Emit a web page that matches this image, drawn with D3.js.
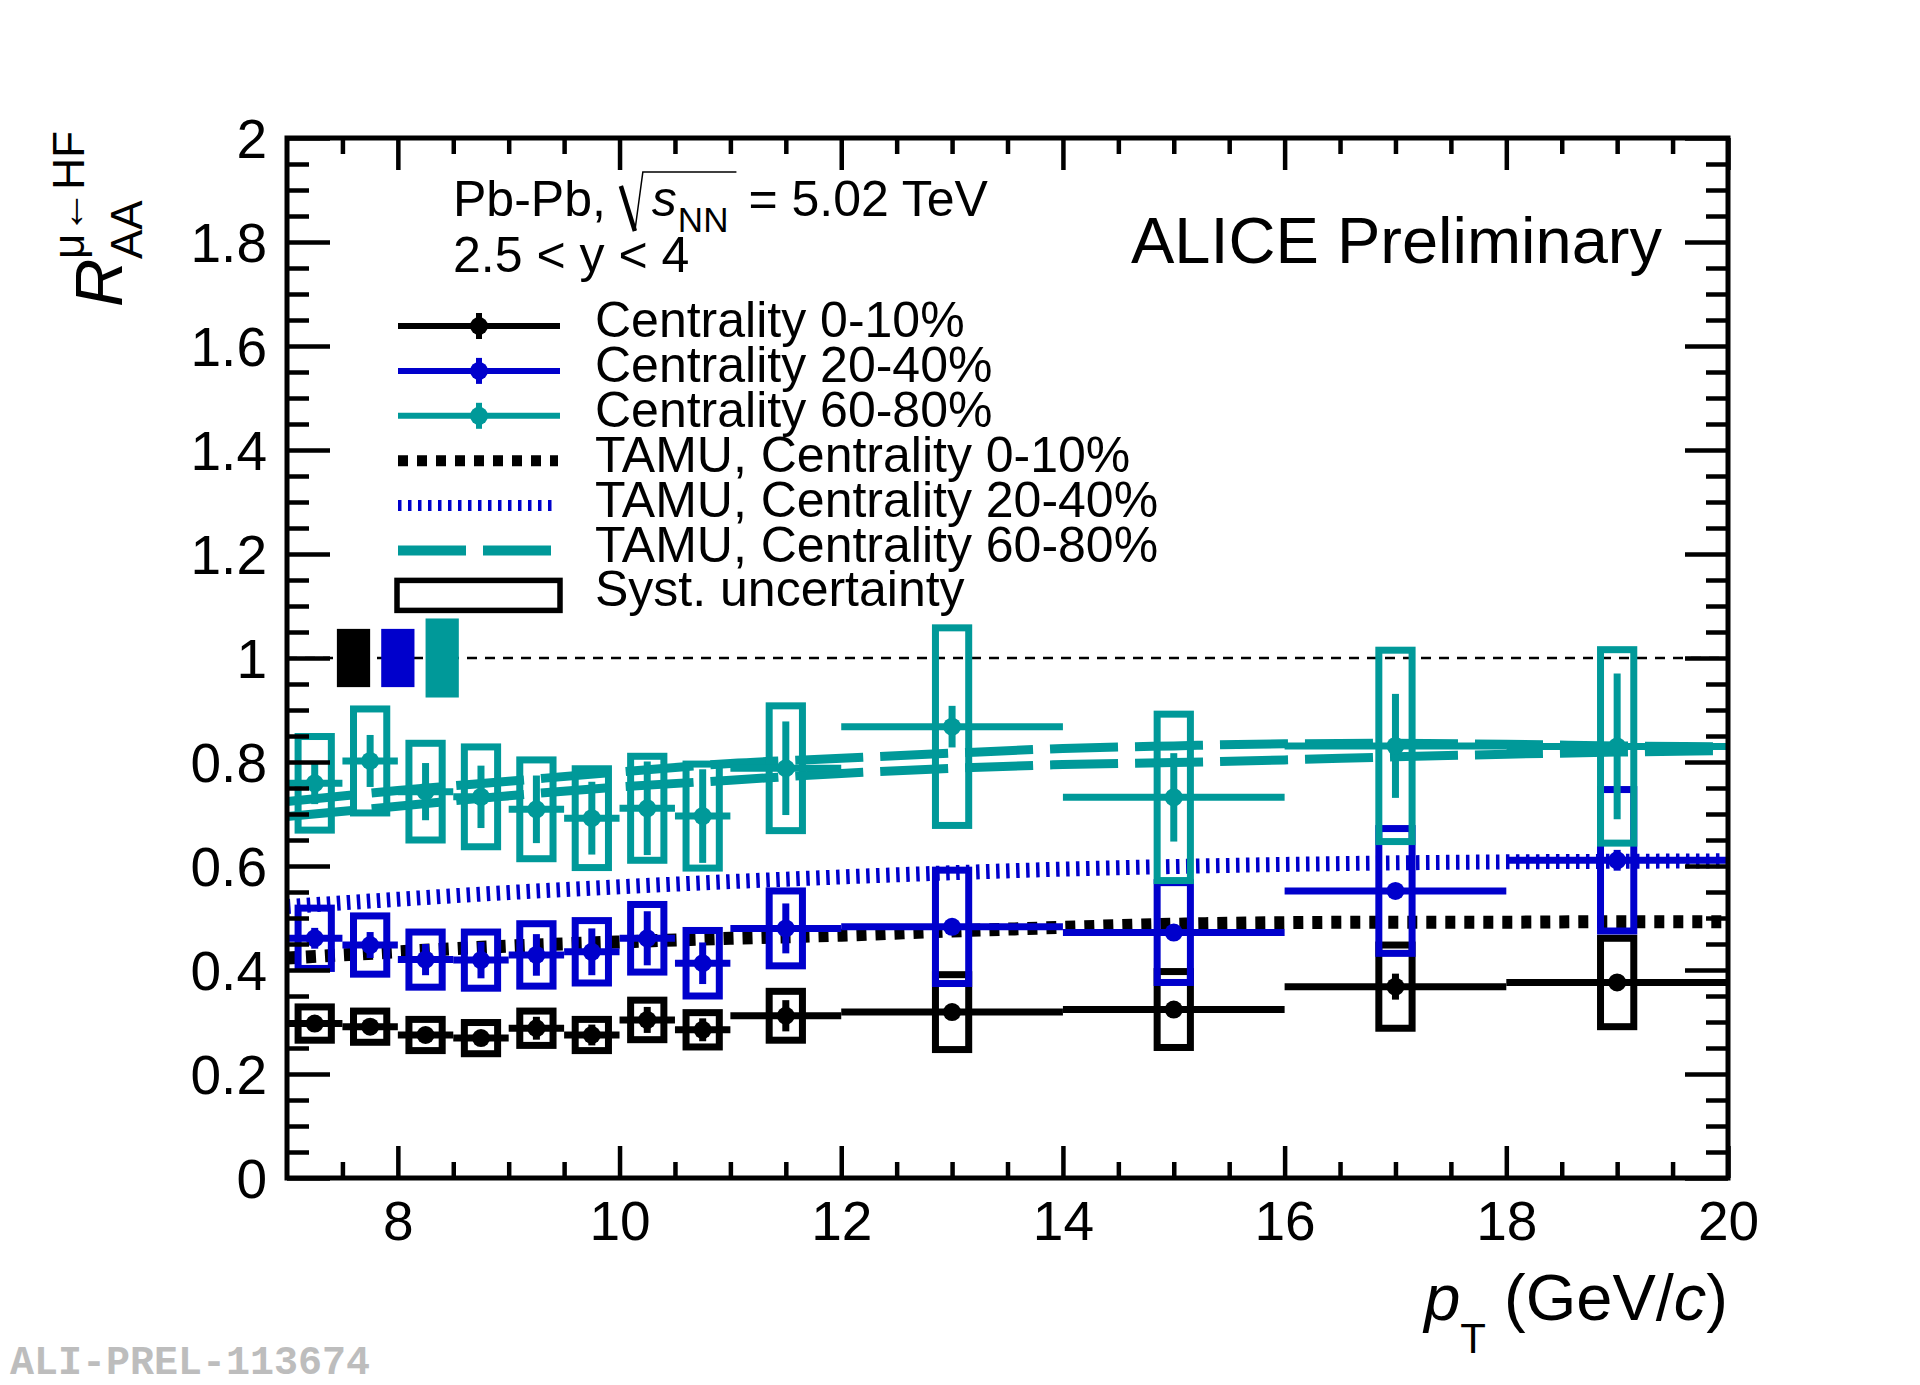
<!DOCTYPE html>
<html>
<head>
<meta charset="utf-8">
<script src="https://cdn.jsdelivr.net/npm/d3@7"></script>
<style>
  body { margin: 0; background: #fff; }
  svg { font-family: "Liberation Sans", Arial, Helvetica, sans-serif; }
</style>
</head>
<body>
<script>
// pT bins
var ptCenter = [7.25, 7.75, 8.25, 8.75, 9.25, 9.75, 10.25, 10.75, 11.5, 13, 15, 17, 19];
var ptLow    = [7.0, 7.5, 8.0, 8.5, 9.0, 9.5, 10.0, 10.5, 11, 12, 14, 16, 18];
var ptHigh   = [7.5, 8.0, 8.5, 9.0, 9.5, 10.0, 10.5, 11.0, 12, 14, 16, 18, 20];

// RAA values, stat and syst (half sizes)
var raa010  = [0.297, 0.291, 0.275, 0.269, 0.288, 0.275, 0.304, 0.285, 0.312, 0.319, 0.324, 0.368, 0.376];
var stat010 = [0.015, 0.015, 0.015, 0.015, 0.022, 0.020, 0.025, 0.022, 0.030, 0.012, 0.015, 0.025, 0.015];
var syst010 = [0.032, 0.030, 0.030, 0.030, 0.033, 0.030, 0.038, 0.033, 0.047, 0.072, 0.073, 0.080, 0.085];

var raa2040  = [0.461, 0.448, 0.420, 0.419, 0.429, 0.435, 0.461, 0.413, 0.480, 0.483, 0.472, 0.552, 0.611];
var stat2040 = [0.020, 0.025, 0.030, 0.035, 0.040, 0.045, 0.052, 0.040, 0.048, 0.015, 0.015, 0.015, 0.020];
var syst2040 = [0.058, 0.056, 0.053, 0.054, 0.060, 0.060, 0.065, 0.063, 0.072, 0.109, 0.096, 0.120, 0.136];

var raa6080  = [0.759, 0.802, 0.743, 0.733, 0.709, 0.692, 0.711, 0.696, 0.788, 0.868, 0.732, 0.831, 0.830];
var stat6080 = [0.040, 0.050, 0.055, 0.060, 0.065, 0.070, 0.090, 0.090, 0.090, 0.040, 0.085, 0.100, 0.140];
var syst6080 = [0.090, 0.100, 0.093, 0.096, 0.095, 0.095, 0.100, 0.100, 0.120, 0.190, 0.160, 0.184, 0.186];

// normalisation uncertainties drawn at RAA = 1
var normX    = [7.6, 8.0, 8.4];
var normHalf = [0.056, 0.056, 0.076];

// TAMU model curves
var tamuPt     = [7, 8, 9, 10, 11, 12, 13, 14, 15, 16, 17, 18, 19, 20];
var tamu010    = [0.423, 0.435, 0.446, 0.454, 0.461, 0.467, 0.475, 0.482, 0.488, 0.491, 0.492, 0.492, 0.493, 0.493];
var tamu2040   = [0.522, 0.536, 0.549, 0.560, 0.570, 0.579, 0.587, 0.594, 0.599, 0.603, 0.606, 0.608, 0.609, 0.610];
var tamu6080Up = [0.724, 0.745, 0.763, 0.781, 0.797, 0.807, 0.817, 0.826, 0.831, 0.835, 0.836, 0.834, 0.831, 0.829];
var tamu6080Lo = [0.695, 0.715, 0.735, 0.752, 0.765, 0.778, 0.788, 0.795, 0.799, 0.804, 0.810, 0.815, 0.819, 0.822];

// axis ticks
var xMajor = [8, 10, 12, 14, 16, 18, 20];
var yMajor = [0, 0.2, 0.4, 0.6, 0.8, 1, 1.2, 1.4, 1.6, 1.8, 2];

var black = "#000000", blue = "#0000cc", teal = "#009999";

var svg = d3.select("body").append("svg")
            .attr("width", 1920)
            .attr("height", 1385);

var x = d3.scaleLinear().domain([7, 20]).range([287, 1728]);
var y = d3.scaleLinear().domain([0, 2]).range([1178, 138]);

svg.append("defs").append("clipPath").attr("id", "frame")
   .append("rect")
   .attr("x", x(7)).attr("y", y(2))
   .attr("width", x(20) - x(7)).attr("height", y(0) - y(2));

var plot = svg.append("g").attr("clip-path", "url(#frame)");

// reference line at 1
plot.append("line")
    .attr("x1", x(7)).attr("x2", x(20))
    .attr("y1", y(1)).attr("y2", y(1))
    .attr("stroke", "#000")
    .attr("stroke-width", 2.5)
    .attr("stroke-dasharray", "10,8");

// model curves
var line = d3.line().curve(d3.curveMonotoneX);

function drawModel(vals, color, width, dash) {
  plot.append("path")
      .attr("d", line(tamuPt.map(function (p, i) { return [x(p), y(vals[i])]; })))
      .attr("fill", "none")
      .attr("stroke", color)
      .attr("stroke-width", width)
      .attr("stroke-dasharray", dash);
}

drawModel(tamu010, black, 13, "10,9");
drawModel(tamu2040, blue, 15, "3.5,6.5");
drawModel(tamu6080Up, teal, 9, "68,17");
drawModel(tamu6080Lo, teal, 9, "68,17");

// data series
var boxHalf = 0.15;

function drawSeries(vals, stat, syst, color) {
  var g = plot.append("g");

  g.selectAll(".syst").data(vals).enter().append("rect")
   .attr("x", function (d, i) { return x(ptCenter[i] - boxHalf); })
   .attr("y", function (d, i) { return y(d + syst[i]); })
   .attr("width", function (d, i) { return x(ptCenter[i] + boxHalf) - x(ptCenter[i] - boxHalf); })
   .attr("height", function (d, i) { return y(d - syst[i]) - y(d + syst[i]); })
   .attr("fill", "none")
   .attr("stroke", color)
   .attr("stroke-width", 7);

  g.selectAll(".xerr").data(vals).enter().append("line")
   .attr("x1", function (d, i) { return x(ptLow[i]); })
   .attr("x2", function (d, i) { return x(ptHigh[i]); })
   .attr("y1", function (d) { return y(d); })
   .attr("y2", function (d) { return y(d); })
   .attr("stroke", color)
   .attr("stroke-width", 7);

  g.selectAll(".yerr").data(vals).enter().append("line")
   .attr("x1", function (d, i) { return x(ptCenter[i]); })
   .attr("x2", function (d, i) { return x(ptCenter[i]); })
   .attr("y1", function (d, i) { return y(d + stat[i]); })
   .attr("y2", function (d, i) { return y(d - stat[i]); })
   .attr("stroke", color)
   .attr("stroke-width", 7);

  g.selectAll("circle").data(vals).enter().append("circle")
   .attr("cx", function (d, i) { return x(ptCenter[i]); })
   .attr("cy", function (d) { return y(d); })
   .attr("r", 9)
   .attr("fill", color);
}

drawSeries(raa010, stat010, syst010, black);
drawSeries(raa2040, stat2040, syst2040, blue);
drawSeries(raa6080, stat6080, syst6080, teal);

// normalisation boxes
var normColors = [black, blue, teal];
plot.selectAll(".norm").data(normX).enter().append("rect")
    .attr("x", function (d) { return x(d - boxHalf); })
    .attr("y", function (d, i) { return y(1 + normHalf[i]); })
    .attr("width", function (d) { return x(d + boxHalf) - x(d - boxHalf); })
    .attr("height", function (d, i) { return y(1 - normHalf[i]) - y(1 + normHalf[i]); })
    .attr("fill", function (d, i) { return normColors[i]; });

// axes
var xMinor = d3.range(7.5, 20, 0.5).filter(function (v) { return xMajor.indexOf(v) < 0; });
var yMinor = d3.range(0, 41).map(function (k) { return k * 0.05; })
               .filter(function (v) { return Math.abs(Math.round(v * 5) - v * 5) > 1e-6; });

function styleAxis(g) {
  g.select(".domain").remove();
  g.selectAll(".tick line").attr("stroke", "#000").attr("stroke-width", 4.5);
  g.selectAll("text")
   .attr("fill", "#000")
   .attr("font-family", "Liberation Sans, Arial, sans-serif")
   .attr("font-size", 55);
}

svg.append("g").attr("transform", "translate(0," + y(0) + ")")
   .call(d3.axisBottom(x).tickValues(xMajor).tickSize(-32).tickPadding(23).tickFormat(d3.format("d")))
   .call(styleAxis);
svg.append("g").attr("transform", "translate(0," + y(0) + ")")
   .call(d3.axisBottom(x).tickValues(xMinor).tickSize(-16).tickFormat(""))
   .call(styleAxis);
svg.append("g").attr("transform", "translate(0," + y(2) + ")")
   .call(d3.axisTop(x).tickValues(xMajor).tickSize(-32).tickFormat(""))
   .call(styleAxis);
svg.append("g").attr("transform", "translate(0," + y(2) + ")")
   .call(d3.axisTop(x).tickValues(xMinor).tickSize(-16).tickFormat(""))
   .call(styleAxis);

svg.append("g").attr("transform", "translate(" + x(7) + ",0)")
   .call(d3.axisLeft(y).tickValues(yMajor).tickSize(-43).tickPadding(20).tickFormat(d3.format("~g")))
   .call(styleAxis)
   .selectAll("text").attr("dy", "0.36em");
svg.append("g").attr("transform", "translate(" + x(7) + ",0)")
   .call(d3.axisLeft(y).tickValues(yMinor).tickSize(-22).tickFormat(""))
   .call(styleAxis);
svg.append("g").attr("transform", "translate(" + x(20) + ",0)")
   .call(d3.axisRight(y).tickValues(yMajor).tickSize(-43).tickFormat(""))
   .call(styleAxis);
svg.append("g").attr("transform", "translate(" + x(20) + ",0)")
   .call(d3.axisRight(y).tickValues(yMinor).tickSize(-22).tickFormat(""))
   .call(styleAxis);

svg.append("rect")
   .attr("x", x(7)).attr("y", y(2))
   .attr("width", x(20) - x(7)).attr("height", y(0) - y(2))
   .attr("fill", "none")
   .attr("stroke", "#000")
   .attr("stroke-width", 5);

// axis titles
var xt = svg.append("text")
            .attr("x", 1728).attr("y", 1320)
            .attr("text-anchor", "end")
            .attr("font-size", 65)
            .style("white-space", "pre");
xt.append("tspan").attr("font-style", "italic").text("p");
xt.append("tspan").attr("font-size", 42).attr("dy", 33).text("T");
xt.append("tspan").attr("dy", -33).text(" (GeV/");
xt.append("tspan").attr("font-style", "italic").text("c");
xt.append("tspan").text(")");

svg.append("text")
   .attr("transform", "translate(122,307) rotate(-90)")
   .attr("font-size", 67).attr("font-style", "italic")
   .text("R");
svg.append("text")
   .attr("transform", "translate(142,259) rotate(-90)")
   .attr("font-size", 44)
   .text("AA");
svg.append("text")
   .attr("transform", "translate(84,259) rotate(-90)")
   .attr("font-size", 44)
   .text("\u03bc\u2190HF");

// labels
svg.append("text")
   .attr("x", 1662).attr("y", 263)
   .attr("text-anchor", "end")
   .attr("font-size", 65)
   .text("ALICE Preliminary");

var pb = svg.append("text")
            .attr("x", 453).attr("y", 216)
            .attr("font-size", 50)
            .text("Pb-Pb,");
var sx = 453 + pb.node().getComputedTextLength() + 15;
var sText = svg.append("text")
               .attr("x", sx + 31).attr("y", 216)
               .attr("font-size", 50).attr("font-style", "italic")
               .text("s");
var nnX = sx + 31 + sText.node().getComputedTextLength() + 1;
var nn = svg.append("text")
            .attr("x", nnX).attr("y", 232)
            .attr("font-size", 35)
            .text("NN");
var eqX = nnX + nn.node().getComputedTextLength() + 20;
svg.append("text")
   .attr("x", eqX).attr("y", 216)
   .attr("font-size", 50)
   .text("= 5.02 TeV");
svg.append("path")
   .attr("d", "M" + sx + ",186 L" + (sx + 14) + ",231")
   .attr("stroke", "#000").attr("stroke-width", 4.5).attr("fill", "none");
svg.append("path")
   .attr("d", "M" + (sx + 14) + ",231 L" + (sx + 22) + ",172 L" + (eqX - 12) + ",172")
   .attr("stroke", "#000").attr("stroke-width", 1.5).attr("fill", "none");

svg.append("text")
   .attr("x", 453).attr("y", 272)
   .attr("font-size", 50)
   .text("2.5 < y < 4");

// legend
var legendLabels = ["Centrality 0-10%", "Centrality 20-40%", "Centrality 60-80%",
                    "TAMU, Centrality 0-10%", "TAMU, Centrality 20-40%", "TAMU, Centrality 60-80%",
                    "Syst. uncertainty"];
var legendColors = [black, blue, teal, black, blue, teal, black];
var legendDash   = [null, null, null, "10,9", "3.5,6.5", "68,17", null];
var legendWidth  = [6, 6, 6, 11, 11, 10, 5];
var rowY = function (i) { return 326 + i * 44.9; };

var leg = svg.append("g");
legendLabels.forEach(function (lab, i) {
  var cy = rowY(i);
  if (i < 6) {
    leg.append("line")
       .attr("x1", 398).attr("x2", i >= 3 ? 558 : 560)
       .attr("y1", cy).attr("y2", cy)
       .attr("stroke", legendColors[i])
       .attr("stroke-width", legendWidth[i])
       .attr("stroke-dasharray", legendDash[i]);
  }
  if (i < 3) {
    leg.append("line")
       .attr("x1", 479).attr("x2", 479)
       .attr("y1", cy - 13).attr("y2", cy + 13)
       .attr("stroke", legendColors[i]).attr("stroke-width", 6);
    leg.append("circle")
       .attr("cx", 479).attr("cy", cy).attr("r", 9)
       .attr("fill", legendColors[i]);
  }
  if (i === 6) {
    leg.append("rect")
       .attr("x", 397).attr("y", cy - 15)
       .attr("width", 163).attr("height", 30)
       .attr("fill", "none")
       .attr("stroke", "#000").attr("stroke-width", 5.5);
  }
  leg.append("text")
     .attr("x", 595).attr("y", cy + 11)
     .attr("font-size", 50)
     .text(lab);
});

// watermark
svg.append("text")
   .attr("x", 10).attr("y", 1374)
   .attr("font-family", "Liberation Mono, Courier New, monospace")
   .attr("font-weight", "bold")
   .attr("font-size", 40)
   .attr("fill", "#bdbdbd")
   .text("ALI-PREL-113674");
</script>
</body>
</html>
